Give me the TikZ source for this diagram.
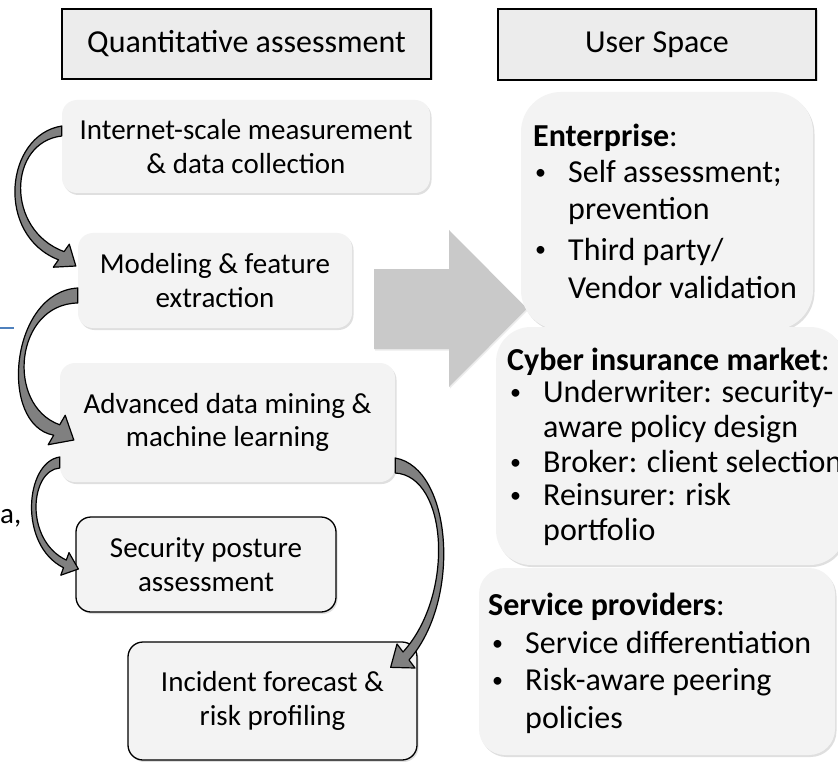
\documentclass[tikz,border=0pt]{standalone}
\usepackage{fontspec}
\setmainfont{Carlito}
\usetikzlibrary{shadows,calc}
\definecolor{hdrgray}{HTML}{ECECEC}
\definecolor{boxgray}{HTML}{F3F3F3}
\definecolor{arrgray}{HTML}{808080}
\definecolor{bigarr}{HTML}{C9C9C9}
\definecolor{strayblue}{HTML}{4F81BD}
\newcommand\fontL{\fontsize{29}{33.5}\selectfont}
\newcommand\fontH{\fontsize{32}{38}\selectfont}
\newcommand\fontR{\fontsize{32}{38}\selectfont}
\newcommand\bul{\makebox[33pt][l]{\raisebox{3pt}{\fontsize{22}{22}\selectfont\textbullet}}}
\tikzset{
  hdr/.style={draw=black, line width=1.4pt, fill=hdrgray, inner sep=0pt, font=\fontH,
    drop shadow={shadow xshift=1.5pt, shadow yshift=-1.5pt, opacity=0.3}},
  soft/.style={fill=boxgray, inner sep=0pt, rounded corners=15pt, align=center, font=\fontL,
    drop shadow={shadow xshift=1.5pt, shadow yshift=-2pt, opacity=0.25}},
  bord/.style={soft, draw=black, line width=1.3pt},
  bigbox/.style={fill=boxgray, inner sep=0pt,
    drop shadow={shadow xshift=1.5pt, shadow yshift=-2pt, opacity=0.25}},
  line/.style={anchor=base west, inner sep=0pt, font=\fontR},
  curved/.style={fill=arrgray, draw=black, line width=1.2pt, line join=round},
}
\begin{document}
\begin{tikzpicture}[x=1pt,y=-1pt]
\useasboundingbox (0,0) rectangle (838,762);
\fill[white] (0,0) rectangle (838,762);

% stray fragments at the left edge
\draw[strayblue, line width=1.5pt] (0,328) -- (14,328);
\node[anchor=base west, inner sep=0pt, font=\fontL] (stray) at (0,523) {a,};

% headers
\node[hdr, minimum width=369pt, minimum height=70pt] (qa) at (246.5,44) {Quantitative assessment};
\node[hdr, minimum width=318pt, minimum height=71pt] (us) at (657,44.5) {User Space};

% big arrow
\fill[bigarr, drop shadow={shadow xshift=1pt, shadow yshift=-1.5pt, opacity=0.15}]
  (374,269) -- (449,269) -- (449,230) -- (527,308.5) -- (449,387) -- (449,349) -- (374,349) -- cycle;

% left boxes
\node[soft, minimum width=368pt, minimum height=93pt] (inet) at (246,146.5) {Internet-scale measurement\\\& data collection};
\node[soft, minimum width=274pt, minimum height=95pt] (model) at (215,280.5) {Modeling \& feature\\extraction};
\node[soft, minimum width=335pt, minimum height=119pt] (adv) at (227.5,422.5) {Advanced data mining \&\\machine learning};
\node[bord, minimum width=260pt, minimum height=95pt] (sec) at (206,564.5) {Security posture\\assessment};
\node[bord, minimum width=289pt, minimum height=118pt] (inc) at (272.5,701) {Incident forecast \&\\risk profiling};

% right boxes
\node[bigbox, rounded corners=40pt, minimum width=292pt, minimum height=238pt] (ent) at (667,211) {};
\node[bigbox, rounded corners=35pt, minimum width=349pt, minimum height=238pt] (cyb) at (670.5,446) {};
\node[bigbox, rounded corners=26pt, minimum width=356pt, minimum height=187pt] (svc) at (657,661.5) {};

% right box texts
\node[line] (e1) at (533,147) {\textbf{Enterprise}:};
\node[line] (e2) at (535,183) {\bul Self assessment;};
\node[line] (e3) at (568,220) {prevention};
\node[line] (e4) at (535,260) {\bul Third party/};
\node[line] (e5) at (568,298) {Vendor validation};

\node[line] (c1) at (507,370) {\textbf{Cyber insurance market}:};
\node[line] (c2) at (510,402) {\bul Underwriter: security-};
\node[line] (c3) at (543,437) {aware policy design};
\node[line] (c4) at (510,472) {\bul Broker: client selection};
\node[line] (c5) at (510,505) {\bul Reinsurer: risk};
\node[line] (c6) at (543,540) {portfolio};

\node[line] (s1) at (488,615) {\textbf{Service providers}:};
\node[line] (s2) at (492,653) {\bul Service differentiation};
\node[line] (s3) at (492,690) {\bul Risk-aware peering};
\node[line] (s4) at (525,728) {policies};

% curved connectors (end points tied to the boxes)
\coordinate (a1s) at ([shift={(0,-20.5)}]inet.west);
\coordinate (a1t) at ([shift={(0,-10.5)}]inet.west);
\filldraw[curved] (a1s) .. controls (5,135) and (-5,235) .. (58.5,259.8) -- (53.3,267.2)
  -- ([shift={(-2,-14.5)}]model.west) -- (69.3,244.2) -- (64.1,251.6)
  .. controls (5,230) and (8,142) .. (a1t) -- cycle;

\coordinate (a2s) at ([shift={(0,7.5)}]model.west);
\coordinate (a2t) at ([shift={(0,22.5)}]model.west);
\filldraw[curved] (a2s) .. controls (10,292) and (-2,425) .. (53.7,435.2) -- (48.2,444.7)
  -- ([shift={(14,17.5)}]adv.west) -- (65.2,415.3) -- (59.7,424.8)
  .. controls (5,405) and (15,304) .. (a2t) -- cycle;

\coordinate (a3s) at ([shift={(0,34.5)}]adv.west);
\coordinate (a3t) at ([shift={(0,45.5)}]adv.west);
\filldraw[curved] (a3s) .. controls (25,462) and (18,545) .. (63.5,567.7) -- (60.8,575.2)
  -- ([shift={(3,4.5)}]sec.west) -- (69,552.6) -- (66.3,560.1)
  .. controls (24,540) and (30,470) .. (a3t) -- cycle;

\coordinate (a4s) at ([shift={(0,35.5)}]adv.east);
\coordinate (a4t) at ([shift={(0,50.5)}]adv.east);
\filldraw[curved] (a4s) .. controls (452,468) and (462,600) .. (409,660) -- (415,668)
  -- ([shift={(-27,26)}]inc.north east) -- (397,644) -- (403,652)
  .. controls (455,595) and (448,476) .. (a4t) -- cycle;
\end{tikzpicture}
\end{document}
